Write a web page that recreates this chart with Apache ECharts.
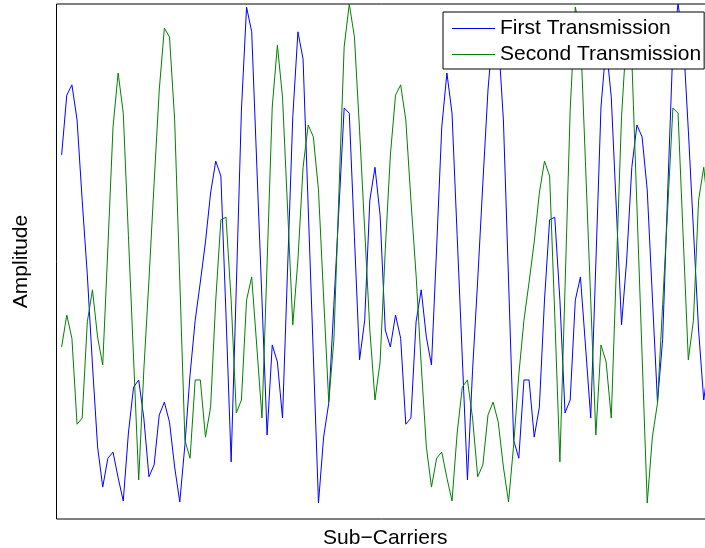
<!DOCTYPE html>
<html>
<head>
<meta charset="utf-8">
<script src="https://cdn.jsdelivr.net/npm/echarts@6/dist/echarts.min.js"></script>
<style>
  html, body { margin: 0; padding: 0; background: #fff; }
  #chart { width: 705px; height: 548px; }
</style>
</head>
<body>
<div id="chart"></div>
<script>
// Normalised amplitude per sub-carrier (index 1..128) for each transmission
const firstTransmission = [
  0.707, 0.823, 0.843, 0.775, 0.619, 0.474, 0.299, 0.140, 0.062, 0.118, 0.130, 0.080, 0.035, 0.167, 0.256, 0.270,
  0.196, 0.082, 0.105, 0.202, 0.227, 0.188, 0.101, 0.033, 0.144, 0.280, 0.386, 0.460, 0.538, 0.633, 0.695, 0.666,
  0.396, 0.111, 0.450, 0.794, 0.994, 0.946, 0.685, 0.425, 0.163, 0.338, 0.305, 0.196, 0.489, 0.781, 0.946, 0.893,
  0.606, 0.318, 0.031, 0.159, 0.225, 0.416, 0.606, 0.798, 0.788, 0.548, 0.309, 0.386, 0.619, 0.683, 0.590, 0.367,
  0.334, 0.396, 0.351, 0.184, 0.196, 0.383, 0.445, 0.353, 0.299, 0.526, 0.761, 0.866, 0.788, 0.550, 0.313, 0.076,
  0.289, 0.464, 0.652, 0.833, 0.953, 0.936, 0.775, 0.464, 0.153, 0.118, 0.270, 0.270, 0.159, 0.217, 0.425, 0.581,
  0.586, 0.425, 0.206, 0.231, 0.425, 0.470, 0.334, 0.196, 0.497, 0.800, 0.920, 0.819, 0.600, 0.377, 0.503, 0.683,
  0.765, 0.742, 0.639, 0.431, 0.227, 0.348, 0.639, 0.917, 1.000, 0.936, 0.755, 0.561, 0.367, 0.231, 0.305, 0.522
];

const secondTransmission = [
  0.334, 0.396, 0.351, 0.184, 0.196, 0.383, 0.445, 0.353, 0.299, 0.526, 0.761, 0.866, 0.788, 0.550, 0.313, 0.076,
  0.289, 0.464, 0.652, 0.833, 0.953, 0.936, 0.775, 0.464, 0.153, 0.118, 0.270, 0.270, 0.159, 0.217, 0.425, 0.581,
  0.586, 0.425, 0.206, 0.231, 0.425, 0.470, 0.334, 0.196, 0.497, 0.800, 0.920, 0.819, 0.600, 0.377, 0.503, 0.683,
  0.765, 0.742, 0.639, 0.431, 0.227, 0.348, 0.639, 0.917, 1.000, 0.936, 0.755, 0.561, 0.367, 0.231, 0.305, 0.522,
  0.707, 0.823, 0.843, 0.775, 0.619, 0.474, 0.299, 0.140, 0.062, 0.118, 0.130, 0.080, 0.035, 0.167, 0.256, 0.270,
  0.196, 0.082, 0.105, 0.202, 0.227, 0.188, 0.101, 0.033, 0.144, 0.280, 0.386, 0.460, 0.538, 0.633, 0.695, 0.666,
  0.396, 0.111, 0.450, 0.794, 0.994, 0.946, 0.685, 0.425, 0.163, 0.338, 0.305, 0.196, 0.489, 0.781, 0.946, 0.893,
  0.606, 0.318, 0.031, 0.159, 0.225, 0.416, 0.606, 0.798, 0.788, 0.548, 0.309, 0.386, 0.619, 0.683, 0.590, 0.367
];

const seriesNames = ['First Transmission', 'Second Transmission'];
const seriesColors = ['#0000ff', '#008000'];

const xLabel = 'Sub\u2212Carriers';
const yLabel = 'Amplitude';

// pair each amplitude with its sub-carrier number (1-based)
function toPoints(values) {
  return values.map((v, i) => [i + 1, v]);
}

const FONT = "'Liberation Sans', Arial, Helvetica, sans-serif";

// legend swatches: a thin bar in each series colour
const legendItems = seriesNames.map((name, k) => ({
  name: name,
  icon: 'rect',
  itemStyle: { color: seriesColors[k], borderWidth: 0, opacity: 1 }
}));

const chart = echarts.init(document.getElementById('chart'), null, { renderer: 'canvas' });

chart.setOption({
  backgroundColor: '#ffffff',
  animation: false,
  grid: {
    left: 56.5,
    top: 4,
    width: 657.5,
    height: 515,
    outerBoundsMode: 'none',
    containLabel: false,
    show: true,
    borderColor: '#000000',
    borderWidth: 1,
    backgroundColor: 'transparent'
  },
  xAxis: {
    type: 'value',
    min: 0,
    max: 128,
    name: xLabel,
    nameLocation: 'middle',
    nameGap: 9,
    nameTextStyle: { fontFamily: FONT, fontSize: 21, color: '#000', verticalAlign: 'top' },
    axisLine: { show: false },
    axisTick: { show: false },
    axisLabel: { show: false },
    splitLine: { show: false }
  },
  yAxis: {
    type: 'value',
    min: 0,
    max: 1,
    name: yLabel,
    nameLocation: 'middle',
    nameRotate: 90,
    nameGap: 25,
    nameTextStyle: { fontFamily: FONT, fontSize: 21, color: '#000' },
    axisLine: { show: false },
    axisTick: { show: false },
    axisLabel: { show: false },
    splitLine: { show: false }
  },
  legend: {
    data: legendItems,
    orient: 'vertical',
    left: 443,
    top: 12,
    padding: [6, 3, 4, 9],
    itemGap: 5,
    itemWidth: 43,
    itemHeight: 1,
    itemStyle: { borderWidth: 0 },
    backgroundColor: '#ffffff',
    borderColor: '#000000',
    borderWidth: 1,
    borderRadius: 0,
    textStyle: { fontFamily: FONT, fontSize: 21, color: '#000', lineHeight: 20 },
    selectedMode: false
  },
  series: [
    {
      name: seriesNames[0],
      type: 'line',
      data: toPoints(firstTransmission),
      symbol: 'none',
      lineStyle: { color: seriesColors[0], width: 1 },
      itemStyle: { color: seriesColors[0] }
    },
    {
      name: seriesNames[1],
      type: 'line',
      data: toPoints(secondTransmission),
      symbol: 'none',
      lineStyle: { color: seriesColors[1], width: 1 },
      itemStyle: { color: seriesColors[1] }
    }
  ]
});
</script>
</body>
</html>
